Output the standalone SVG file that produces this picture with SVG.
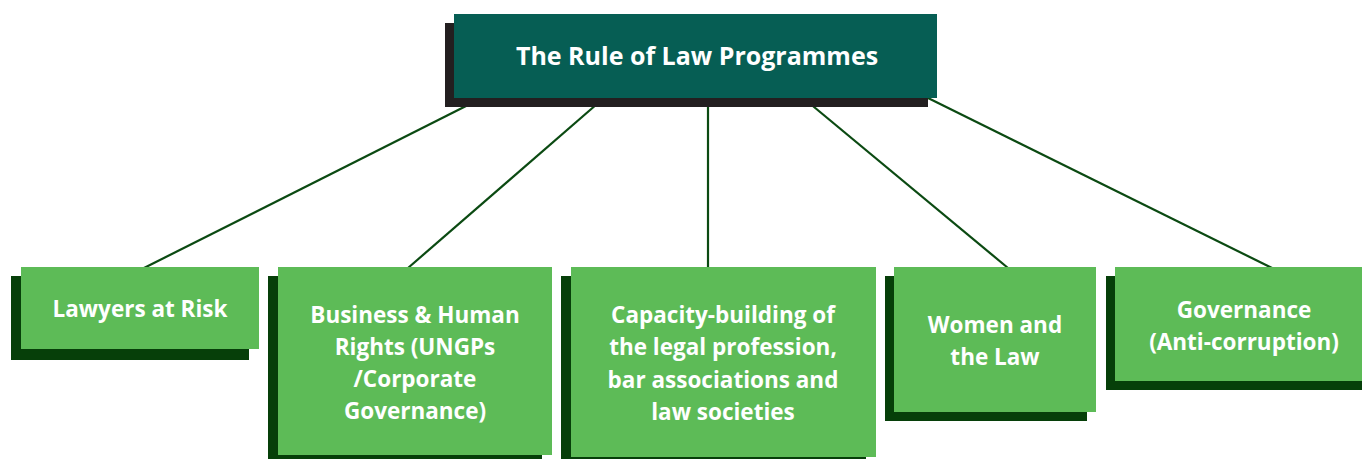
<svg xmlns="http://www.w3.org/2000/svg" width="1362" height="459" viewBox="0 0 1362 459">
<style>
.sh{fill:#063f09}
.bx{fill:#5dbb57}
.t{font-family:"Open Sans","Noto Sans",sans-serif;font-weight:700;font-size:22.5px;fill:#ffffff;text-anchor:middle}
.c{stroke:#0b4a12;stroke-width:2.2;fill:none}
</style>
<rect width="1362" height="459" fill="#ffffff"/>
<g id="connectors">
<line class="c" x1="470" y1="104" x2="144" y2="268"/>
<line class="c" x1="597" y1="104" x2="408" y2="268"/>
<line class="c" x1="708" y1="97" x2="708" y2="268"/>
<line class="c" x1="802" y1="97" x2="1008" y2="268"/>
<line class="c" x1="926" y1="97" x2="1272" y2="268"/>
</g>
<g id="root">
<rect x="445" y="23" width="483" height="84" fill="#231f20"/>
<rect x="454" y="14" width="483" height="84" fill="#065e54"/>
<text class="t" x="697" y="65" style="font-size:25px">The Rule of Law Programmes</text>
</g>
<g id="n1">
<rect class="sh" x="11" y="276" width="238" height="84"/>
<rect class="bx" x="21" y="267" width="238" height="82"/>
<text class="t" x="140" y="317">Lawyers at Risk</text>
</g>
<g id="n2">
<rect class="sh" x="268" y="276" width="274" height="190"/>
<rect class="bx" x="278" y="267" width="274" height="188"/>
<text class="t" x="415" y="323">Business &amp; Human</text>
<text class="t" x="415" y="355">Rights (UNGPs</text>
<text class="t" x="415" y="387">/Corporate</text>
<text class="t" x="415" y="419">Governance)</text>
</g>
<g id="n3">
<rect class="sh" x="561" y="276" width="305" height="190"/>
<rect class="bx" x="571" y="267" width="305" height="190"/>
<text class="t" x="723" y="323">Capacity-building of</text>
<text class="t" x="723" y="355">the legal profession,</text>
<text class="t" x="723" y="388">bar associations and</text>
<text class="t" x="723" y="420">law societies</text>
</g>
<g id="n4">
<rect class="sh" x="885" y="276" width="202" height="145"/>
<rect class="bx" x="894" y="267" width="202" height="145"/>
<text class="t" x="995" y="333">Women and</text>
<text class="t" x="995" y="365">the Law</text>
</g>
<g id="n5">
<rect class="sh" x="1106" y="276" width="260" height="114"/>
<rect class="bx" x="1115" y="267" width="247" height="114"/>
<text class="t" x="1244" y="318">Governance</text>
<text class="t" x="1244" y="350">(Anti-corruption)</text>
</g>
</svg>
